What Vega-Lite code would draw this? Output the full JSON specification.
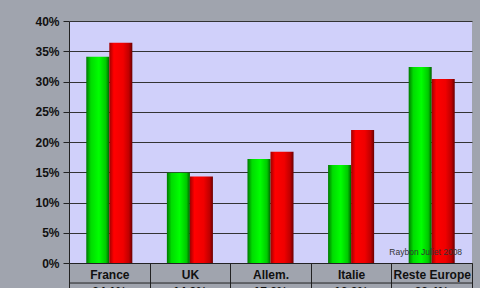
{
  "$schema": "https://vega.github.io/schema/vega-lite/v6.json",
  "autosize": {"type": "none"},
  "width": 403,
  "height": 242,
  "padding": {"left": 69, "top": 21, "right": 8, "bottom": 25},
  "background": "#a0a4ae",
  "config": {
    "view": {"fill": "#d0d0fa", "stroke": null},
    "font": "Liberation Sans"
  },
  "datasets": {
    "vals": [
      {"pays": "France", "serie": "Série 1", "val": 0.341},
      {"pays": "France", "serie": "Série 2", "val": 0.364},
      {"pays": "UK", "serie": "Série 1", "val": 0.149},
      {"pays": "UK", "serie": "Série 2", "val": 0.143},
      {"pays": "Allem.", "serie": "Série 1", "val": 0.172},
      {"pays": "Allem.", "serie": "Série 2", "val": 0.184},
      {"pays": "Italie", "serie": "Série 1", "val": 0.162},
      {"pays": "Italie", "serie": "Série 2", "val": 0.220},
      {"pays": "Reste Europe", "serie": "Série 1", "val": 0.324},
      {"pays": "Reste Europe", "serie": "Série 2", "val": 0.304}
    ],
    "note": [{"pays": "Reste Europe", "val": 0.018, "txt": "Raybon Juliet 2008"}],
    "rule": [{"val": -0.0331}]
  },
  "encoding": {
    "y": {"field": "val", "type": "quantitative",
      "scale": {"domain": [0, 0.4], "nice": false},
      "axis": {"title": null, "format": ".0%", "values": [0, 0.05, 0.1, 0.15, 0.2, 0.25, 0.3, 0.35, 0.4], "labelOverlap": false,
        "labelFontWeight": "bold", "labelFontSize": 12, "labelColor": "#111", "tickSize": 6, "tickColor": "#222", "labelPadding": 4,
        "domainColor": "#222", "grid": true, "gridColor": "#333", "gridOpacity": 1, "gridWidth": 1}}
  },
  "layer": [
    {
      "data": {"name": "vals"},
      "transform": [{"filter": "datum.serie === 'Série 1'"}],
      "mark": {
        "type": "bar",
        "color": {"gradient": "linear", "x1": 0, "x2": 1, "y1": 0, "y2": 0,
          "stops": [
            {"offset": 0, "color": "#007800"},
            {"offset": 0.2, "color": "#00dc00"},
            {"offset": 0.55, "color": "#00ff00"},
            {"offset": 0.85, "color": "#00c800"},
            {"offset": 1, "color": "#006000"}
          ]}
      },
      "encoding": {
        "x": {"field": "pays", "type": "nominal", "sort": null,
          "scale": {"paddingInner": 0, "paddingOuter": 0},
          "axis": {"title": null, "orient": "bottom", "tickBand": "extent", "tickSize": 26, "tickColor": "#222", "labelAngle": 0,
            "labelFontWeight": "bold", "labelFontSize": 12, "labelColor": "#111", "labelPadding": -20, "domain": true, "domainColor": "#222", "ticks": true}},
        "xOffset": {"field": "serie", "type": "nominal", "scale": {"domain": ["Série 1", "Série 2"], "paddingInner": 0, "paddingOuter": 0.75}}
      }
    },
    {
      "data": {"name": "vals"},
      "transform": [{"filter": "datum.serie === 'Série 2'"}],
      "mark": {
        "type": "bar",
        "color": {"gradient": "linear", "x1": 0, "x2": 1, "y1": 0, "y2": 0,
          "stops": [
            {"offset": 0, "color": "#a00000"},
            {"offset": 0.2, "color": "#ff0000"},
            {"offset": 0.6, "color": "#f00000"},
            {"offset": 0.85, "color": "#c00000"},
            {"offset": 1, "color": "#6a0000"}
          ]}
      },
      "encoding": {
        "x": {"field": "pays", "type": "nominal", "sort": null},
        "xOffset": {"field": "serie", "type": "nominal"}
      }
    },
    {
      "data": {"name": "note"},
      "mark": {"type": "text", "fontSize": 8.5, "color": "#333", "dx": -6},
      "encoding": {
        "x": {"field": "pays", "type": "nominal", "sort": null},
        "text": {"field": "txt"}
      }
    },
    {
      "data": {"name": "rule"},
      "mark": {"type": "rule", "color": "#222", "clip": false},
      "encoding": {}
    },
    {
      "data": {"name": "vals"},
      "transform": [{"filter": "datum.serie === 'Série 1'"}],
      "mark": {"type": "text", "fontSize": 12, "fontWeight": "bold", "color": "#111", "baseline": "top", "dy": 24, "clip": false},
      "encoding": {
        "x": {"field": "pays", "type": "nominal", "sort": null},
        "y": {"datum": 0, "type": "quantitative"},
        "text": {"field": "val", "type": "quantitative", "format": ".1%"}
      }
    }
  ]
}
